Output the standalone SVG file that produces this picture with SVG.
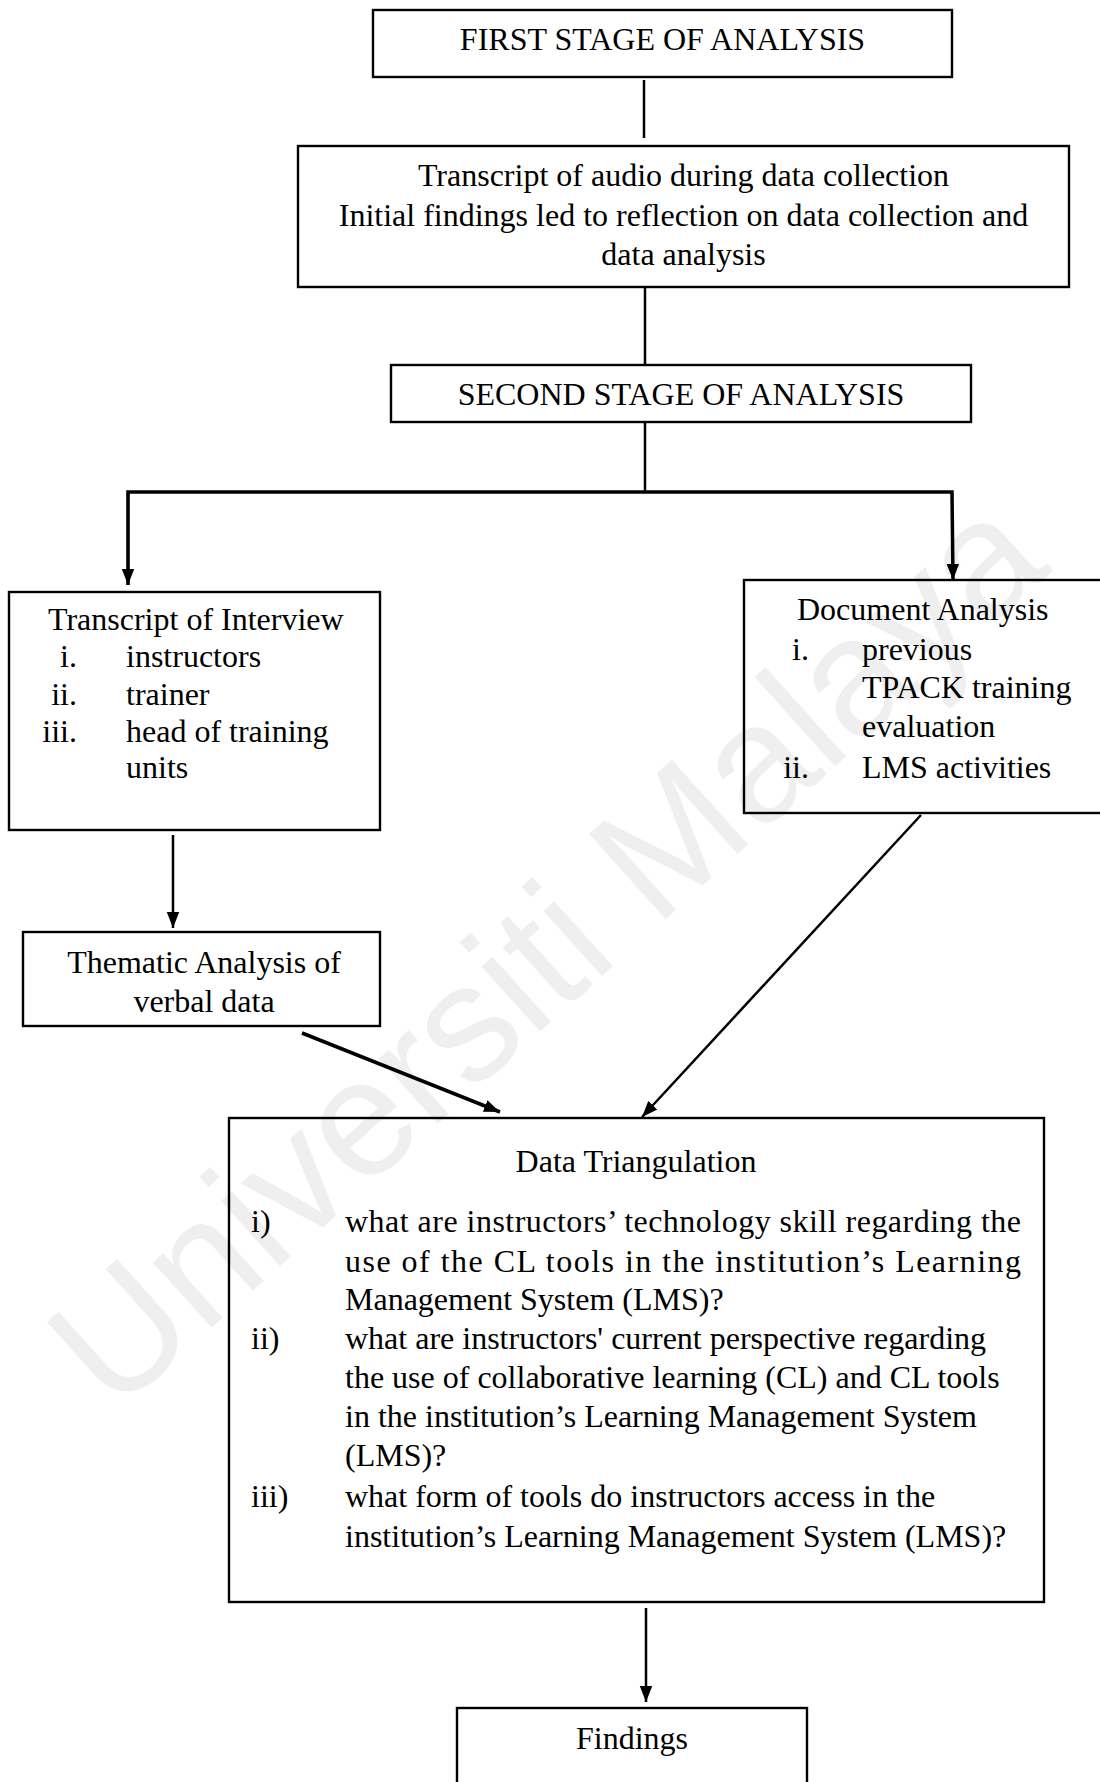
<svg xmlns="http://www.w3.org/2000/svg" width="1100" height="1782" viewBox="0 0 1100 1782">
<defs>
<style>
.box{fill:none;stroke:#000;stroke-width:2.4}
.t{font-family:"Liberation Serif","Times New Roman",serif;font-size:32px;fill:#000}
.c{text-anchor:middle}
.e{text-anchor:end}
.ln{stroke:#000;stroke-width:2.5;fill:none}
.thick{stroke:#000;stroke-width:3.5;fill:none}
.wm{font-family:"Liberation Sans",Arial,sans-serif;font-size:166px;fill:#efefef;text-anchor:middle;dominant-baseline:central}
</style>
<marker id="ah" markerUnits="userSpaceOnUse" markerWidth="16" markerHeight="20" refX="18" refY="7" orient="auto" viewBox="0 0 18 14">
<path d="M0,0 L18,7 L0,14 Z" fill="#000"/>
</marker>
</defs>
<rect width="1100" height="1782" fill="#fff"/>
<text class="wm" x="545" y="950" transform="rotate(-42 545 950)">Universiti Malaya</text>

<g id="connectors">
<line class="ln" x1="644" y1="80" x2="644" y2="138"/>
<line class="ln" x1="645" y1="287" x2="645" y2="364"/>
<line class="ln" x1="645" y1="422" x2="645" y2="492"/>
<polyline class="thick" points="128,585 128,492 952,492 953,580" marker-end="url(#ah)"/>
<line class="ln" x1="128" y1="492" x2="128" y2="585" marker-end="url(#ah)"/>
<line class="ln" x1="173" y1="835" x2="173" y2="928" marker-end="url(#ah)"/>
<line class="thick" x1="302" y1="1033" x2="500" y2="1112" marker-end="url(#ah)"/>
<line class="ln" x1="921" y1="815" x2="642" y2="1117" marker-end="url(#ah)"/>
<line class="ln" x1="646" y1="1608" x2="646" y2="1702" marker-end="url(#ah)"/>
</g>

<g id="first-stage">
<rect class="box" x="373" y="10" width="579" height="67"/>
<text class="t c" x="662.5" y="50">FIRST STAGE OF ANALYSIS</text>
</g>

<g id="transcript-audio">
<rect class="box" x="298" y="146" width="771" height="141"/>
<text class="t c" x="683.5" y="186">Transcript of audio during data collection</text>
<text class="t c" x="683.5" y="226">Initial findings led to reflection on data collection and</text>
<text class="t c" x="683.5" y="265">data analysis</text>
</g>

<g id="second-stage">
<rect class="box" x="391" y="365" width="580" height="57"/>
<text class="t c" x="681" y="405">SECOND STAGE OF ANALYSIS</text>
</g>

<g id="transcript-interview">
<rect class="box" x="9" y="592" width="371" height="238"/>
<text class="t" x="48" y="630">Transcript of Interview</text>
<text class="t e" x="77" y="667">i.</text><text class="t" x="126" y="667">instructors</text>
<text class="t e" x="77" y="705">ii.</text><text class="t" x="126" y="705">trainer</text>
<text class="t e" x="77" y="742">iii.</text><text class="t" x="126" y="742">head of training</text>
<text class="t" x="126" y="778">units</text>
</g>

<g id="document-analysis">
<rect class="box" x="744" y="580" width="370" height="233"/>
<text class="t" x="797" y="620">Document Analysis</text>
<text class="t e" x="809" y="660">i.</text><text class="t" x="862" y="660">previous</text>
<text class="t" x="862" y="698">TPACK training</text>
<text class="t" x="862" y="737">evaluation</text>
<text class="t e" x="809" y="778">ii.</text><text class="t" x="862" y="778">LMS activities</text>
</g>

<g id="thematic-analysis">
<rect class="box" x="23" y="932" width="357" height="94"/>
<text class="t c" x="204" y="973">Thematic Analysis of</text>
<text class="t c" x="204" y="1012">verbal data</text>
</g>

<g id="data-triangulation">
<rect class="box" x="229" y="1118" width="815" height="484"/>
<text class="t c" x="636" y="1172">Data Triangulation</text>
<text class="t" x="251" y="1232">i)</text>
<text class="t" x="345" y="1232" textLength="676" lengthAdjust="spacing">what are instructors’ technology skill regarding the</text>
<text class="t" x="345" y="1272" textLength="676" lengthAdjust="spacing">use of the CL tools in the institution’s Learning</text>
<text class="t" x="345" y="1310">Management System (LMS)?</text>
<text class="t" x="251" y="1349">ii)</text>
<text class="t" x="345" y="1349">what are instructors' current perspective regarding</text>
<text class="t" x="345" y="1388">the use of collaborative learning (CL) and CL tools</text>
<text class="t" x="345" y="1427">in the institution’s Learning Management System</text>
<text class="t" x="345" y="1466">(LMS)?</text>
<text class="t" x="251" y="1507">iii)</text>
<text class="t" x="345" y="1507">what form of tools do instructors access in the</text>
<text class="t" x="345" y="1547">institution’s Learning Management System (LMS)?</text>
</g>

<g id="findings">
<rect class="box" x="457" y="1708" width="350" height="90"/>
<text class="t c" x="632" y="1749">Findings</text>
</g>
</svg>
